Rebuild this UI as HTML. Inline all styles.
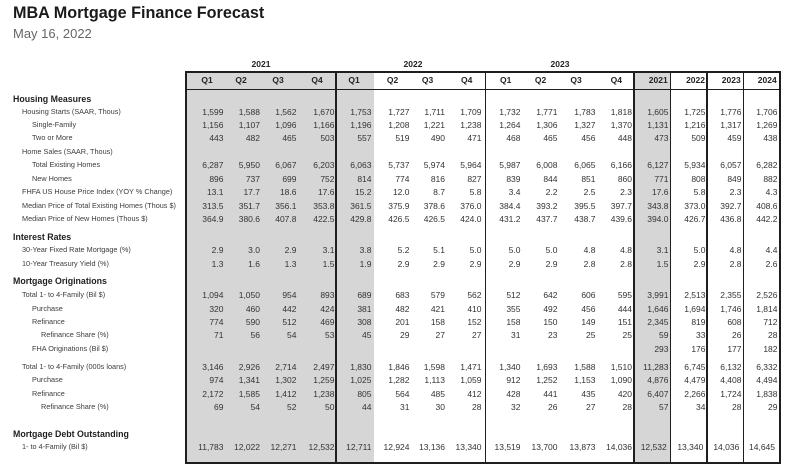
<!DOCTYPE html>
<html><head><meta charset="utf-8">
<style>
html,body{margin:0;padding:0;background:#fff;}
body{width:800px;height:472px;position:relative;overflow:hidden;font-family:"Liberation Sans",Arial,sans-serif;}
.t{position:absolute;left:13px;top:5px;font-size:16.2px;line-height:16px;font-weight:bold;color:#1a1a1a;white-space:nowrap;}
.st{position:absolute;left:13px;top:27px;font-size:13px;line-height:13px;color:#666;white-space:nowrap;}
.g{position:absolute;background:#d6d6d6;}
.ln{position:absolute;background:#1e1e1e;}
.yr{position:absolute;top:58.5px;width:40px;text-align:center;font-size:8.5px;line-height:10px;font-weight:bold;color:#222;}
.q{position:absolute;top:75px;width:30px;text-align:center;font-size:8.5px;line-height:10px;font-weight:bold;color:#222;}
.a{position:absolute;top:75px;text-align:right;font-size:8.5px;line-height:10px;font-weight:bold;color:#222;}
.r{position:absolute;left:0;width:800px;height:10px;}
.r span{position:absolute;top:0;font-size:8.5px;line-height:10px;color:#333;white-space:nowrap;}
.r em{position:absolute;top:0;font-style:normal;font-size:7.3px;line-height:10px;color:#3c3c3c;white-space:nowrap;}
.r em.l1{left:22px;} .r em.l2{left:32px;} .r em.l3{left:41px;}
.s{position:absolute;left:13px;font-size:8.8px;line-height:10px;font-weight:bold;color:#1e1e1e;white-space:nowrap;}
.r span:nth-of-type(1){right:576.5px}
.r span:nth-of-type(2){right:540px}
.r span:nth-of-type(3){right:503.5px}
.r span:nth-of-type(4){right:465.5px}
.r span:nth-of-type(5){right:428.5px}
.r span:nth-of-type(6){right:390.5px}
.r span:nth-of-type(7){right:355px}
.r span:nth-of-type(8){right:318.5px}
.r span:nth-of-type(9){right:279.5px}
.r span:nth-of-type(10){right:242.5px}
.r span:nth-of-type(11){right:204.5px}
.r span:nth-of-type(12){right:168px}
.r span:nth-of-type(13){right:131.5px}
.r span:nth-of-type(14){right:94.5px}
.r span:nth-of-type(15){right:58.5px}
.r span:nth-of-type(16){right:22.5px}
.r.d span:nth-of-type(13){right:133.3px}
.r.d span:nth-of-type(14){right:96.7px}
.r.d span:nth-of-type(15){right:60.7px}
.r.d span:nth-of-type(16){right:25px}
</style></head><body>
<div class="t">MBA Mortgage Finance Forecast</div>
<div class="st">May 16, 2022</div>

<div class="g" style="left:186px;top:72px;width:188px;height:391px;"></div>
<div class="g" style="left:634px;top:72px;width:36px;height:391px;"></div>

<div class="ln" style="left:185px;top:71px;width:596px;height:1.7px;"></div>
<div class="ln" style="left:185px;top:88.8px;width:596px;height:1.5px;"></div>
<div class="ln" style="left:185px;top:462px;width:596px;height:2px;"></div>
<div class="ln" style="left:185px;top:71px;width:1.7px;height:393px;"></div>
<div class="ln" style="left:335px;top:71px;width:1.7px;height:393px;"></div>
<div class="ln" style="left:484.8px;top:71px;width:1.7px;height:393px;"></div>
<div class="ln" style="left:633.3px;top:71px;width:1.7px;height:393px;"></div>
<div class="ln" style="left:669.5px;top:71px;width:1.7px;height:393px;"></div>
<div class="ln" style="left:706.3px;top:71px;width:1.7px;height:393px;"></div>
<div class="ln" style="left:742.5px;top:71px;width:1.7px;height:393px;"></div>
<div class="ln" style="left:779px;top:71px;width:1.8px;height:393px;"></div>

<div class="yr" style="left:241px;">2021</div>
<div class="yr" style="left:393px;">2022</div>
<div class="yr" style="left:540px;">2023</div>

<div class="q" style="left:192px;">Q1</div>
<div class="q" style="left:226px;">Q2</div>
<div class="q" style="left:263px;">Q3</div>
<div class="q" style="left:302px;">Q4</div>
<div class="q" style="left:339px;">Q1</div>
<div class="q" style="left:377.5px;">Q2</div>
<div class="q" style="left:412.5px;">Q3</div>
<div class="q" style="left:451.7px;">Q4</div>
<div class="q" style="left:490.7px;">Q1</div>
<div class="q" style="left:525.5px;">Q2</div>
<div class="q" style="left:561px;">Q3</div>
<div class="q" style="left:601.3px;">Q4</div>
<div class="a" style="right:132.3px;">2021</div>
<div class="a" style="right:95px;">2022</div>
<div class="a" style="right:59.3px;">2023</div>
<div class="a" style="right:23.3px;">2024</div>

<div class="s" style="top:94px;">Housing Measures</div>
<div class="s" style="top:231.7px;">Interest Rates</div>
<div class="s" style="top:276px;">Mortgage Originations</div>
<div class="s" style="top:429px;">Mortgage Debt Outstanding</div>

<div class="r" style="top:106.7px"><em class="l1">Housing Starts (SAAR, Thous)</em><span>1,599</span><span>1,588</span><span>1,562</span><span>1,670</span><span>1,753</span><span>1,727</span><span>1,711</span><span>1,709</span><span>1,732</span><span>1,771</span><span>1,783</span><span>1,818</span><span>1,605</span><span>1,725</span><span>1,776</span><span>1,706</span></div>
<div class="r" style="top:120.3px"><em class="l2">Single-Family</em><span>1,156</span><span>1,107</span><span>1,096</span><span>1,166</span><span>1,196</span><span>1,208</span><span>1,221</span><span>1,238</span><span>1,264</span><span>1,306</span><span>1,327</span><span>1,370</span><span>1,131</span><span>1,216</span><span>1,317</span><span>1,269</span></div>
<div class="r" style="top:133.3px"><em class="l2">Two or More</em><span>443</span><span>482</span><span>465</span><span>503</span><span>557</span><span>519</span><span>490</span><span>471</span><span>468</span><span>465</span><span>456</span><span>448</span><span>473</span><span>509</span><span>459</span><span>438</span></div>
<div class="r" style="top:146.7px"><em class="l1">Home Sales (SAAR, Thous)</em></div>
<div class="r" style="top:160.3px"><em class="l2">Total Existing Homes</em><span>6,287</span><span>5,950</span><span>6,067</span><span>6,203</span><span>6,063</span><span>5,737</span><span>5,974</span><span>5,964</span><span>5,987</span><span>6,008</span><span>6,065</span><span>6,166</span><span>6,127</span><span>5,934</span><span>6,057</span><span>6,282</span></div>
<div class="r" style="top:173.7px"><em class="l2">New Homes</em><span>896</span><span>737</span><span>699</span><span>752</span><span>814</span><span>774</span><span>816</span><span>827</span><span>839</span><span>844</span><span>851</span><span>860</span><span>771</span><span>808</span><span>849</span><span>882</span></div>
<div class="r" style="top:187.3px"><em class="l1">FHFA US House Price Index (YOY % Change)</em><span>13.1</span><span>17.7</span><span>18.6</span><span>17.6</span><span>15.2</span><span>12.0</span><span>8.7</span><span>5.8</span><span>3.4</span><span>2.2</span><span>2.5</span><span>2.3</span><span>17.6</span><span>5.8</span><span>2.3</span><span>4.3</span></div>
<div class="r" style="top:200.7px"><em class="l1">Median Price of Total Existing Homes (Thous $)</em><span>313.5</span><span>351.7</span><span>356.1</span><span>353.8</span><span>361.5</span><span>375.9</span><span>378.6</span><span>376.0</span><span>384.4</span><span>393.2</span><span>395.5</span><span>397.7</span><span>343.8</span><span>373.0</span><span>392.7</span><span>408.6</span></div>
<div class="r" style="top:214px"><em class="l1">Median Price of New Homes (Thous $)</em><span>364.9</span><span>380.6</span><span>407.8</span><span>422.5</span><span>429.8</span><span>426.5</span><span>426.5</span><span>424.0</span><span>431.2</span><span>437.7</span><span>438.7</span><span>439.6</span><span>394.0</span><span>426.7</span><span>436.8</span><span>442.2</span></div>
<div class="r" style="top:245.3px"><em class="l1">30-Year Fixed Rate Mortgage (%)</em><span>2.9</span><span>3.0</span><span>2.9</span><span>3.1</span><span>3.8</span><span>5.2</span><span>5.1</span><span>5.0</span><span>5.0</span><span>5.0</span><span>4.8</span><span>4.8</span><span>3.1</span><span>5.0</span><span>4.8</span><span>4.4</span></div>
<div class="r" style="top:258.7px"><em class="l1">10-Year Treasury Yield (%)</em><span>1.3</span><span>1.6</span><span>1.3</span><span>1.5</span><span>1.9</span><span>2.9</span><span>2.9</span><span>2.9</span><span>2.9</span><span>2.9</span><span>2.8</span><span>2.8</span><span>1.5</span><span>2.9</span><span>2.8</span><span>2.6</span></div>
<div class="r" style="top:289.7px"><em class="l1">Total 1- to 4-Family (Bil $)</em><span>1,094</span><span>1,050</span><span>954</span><span>893</span><span>689</span><span>683</span><span>579</span><span>562</span><span>512</span><span>642</span><span>606</span><span>595</span><span>3,991</span><span>2,513</span><span>2,355</span><span>2,526</span></div>
<div class="r" style="top:303.7px"><em class="l2">Purchase</em><span>320</span><span>460</span><span>442</span><span>424</span><span>381</span><span>482</span><span>421</span><span>410</span><span>355</span><span>492</span><span>456</span><span>444</span><span>1,646</span><span>1,694</span><span>1,746</span><span>1,814</span></div>
<div class="r" style="top:316.7px"><em class="l2">Refinance</em><span>774</span><span>590</span><span>512</span><span>469</span><span>308</span><span>201</span><span>158</span><span>152</span><span>158</span><span>150</span><span>149</span><span>151</span><span>2,345</span><span>819</span><span>608</span><span>712</span></div>
<div class="r" style="top:330.3px"><em class="l3">Refinance Share (%)</em><span>71</span><span>56</span><span>54</span><span>53</span><span>45</span><span>29</span><span>27</span><span>27</span><span>31</span><span>23</span><span>25</span><span>25</span><span>59</span><span>33</span><span>26</span><span>28</span></div>
<div class="r" style="top:344px"><em class="l2">FHA Originations (Bil $)</em><span></span><span></span><span></span><span></span><span></span><span></span><span></span><span></span><span></span><span></span><span></span><span></span><span>293</span><span>176</span><span>177</span><span>182</span></div>
<div class="r" style="top:361.7px"><em class="l1">Total 1- to 4-Family (000s loans)</em><span>3,146</span><span>2,926</span><span>2,714</span><span>2,497</span><span>1,830</span><span>1,846</span><span>1,598</span><span>1,471</span><span>1,340</span><span>1,693</span><span>1,588</span><span>1,510</span><span>11,283</span><span>6,745</span><span>6,132</span><span>6,332</span></div>
<div class="r" style="top:375.3px"><em class="l2">Purchase</em><span>974</span><span>1,341</span><span>1,302</span><span>1,259</span><span>1,025</span><span>1,282</span><span>1,113</span><span>1,059</span><span>912</span><span>1,252</span><span>1,153</span><span>1,090</span><span>4,876</span><span>4,479</span><span>4,408</span><span>4,494</span></div>
<div class="r" style="top:388.7px"><em class="l2">Refinance</em><span>2,172</span><span>1,585</span><span>1,412</span><span>1,238</span><span>805</span><span>564</span><span>485</span><span>412</span><span>428</span><span>441</span><span>435</span><span>420</span><span>6,407</span><span>2,266</span><span>1,724</span><span>1,838</span></div>
<div class="r" style="top:402px"><em class="l3">Refinance Share (%)</em><span>69</span><span>54</span><span>52</span><span>50</span><span>44</span><span>31</span><span>30</span><span>28</span><span>32</span><span>26</span><span>27</span><span>28</span><span>57</span><span>34</span><span>28</span><span>29</span></div>
<div class="r d" style="top:441.7px"><em class="l1">1- to 4-Family (Bil $)</em><span>11,783</span><span>12,022</span><span>12,271</span><span>12,532</span><span>12,711</span><span>12,924</span><span>13,136</span><span>13,340</span><span>13,519</span><span>13,700</span><span>13,873</span><span>14,036</span><span>12,532</span><span>13,340</span><span>14,036</span><span>14,645</span></div>
</body></html>
